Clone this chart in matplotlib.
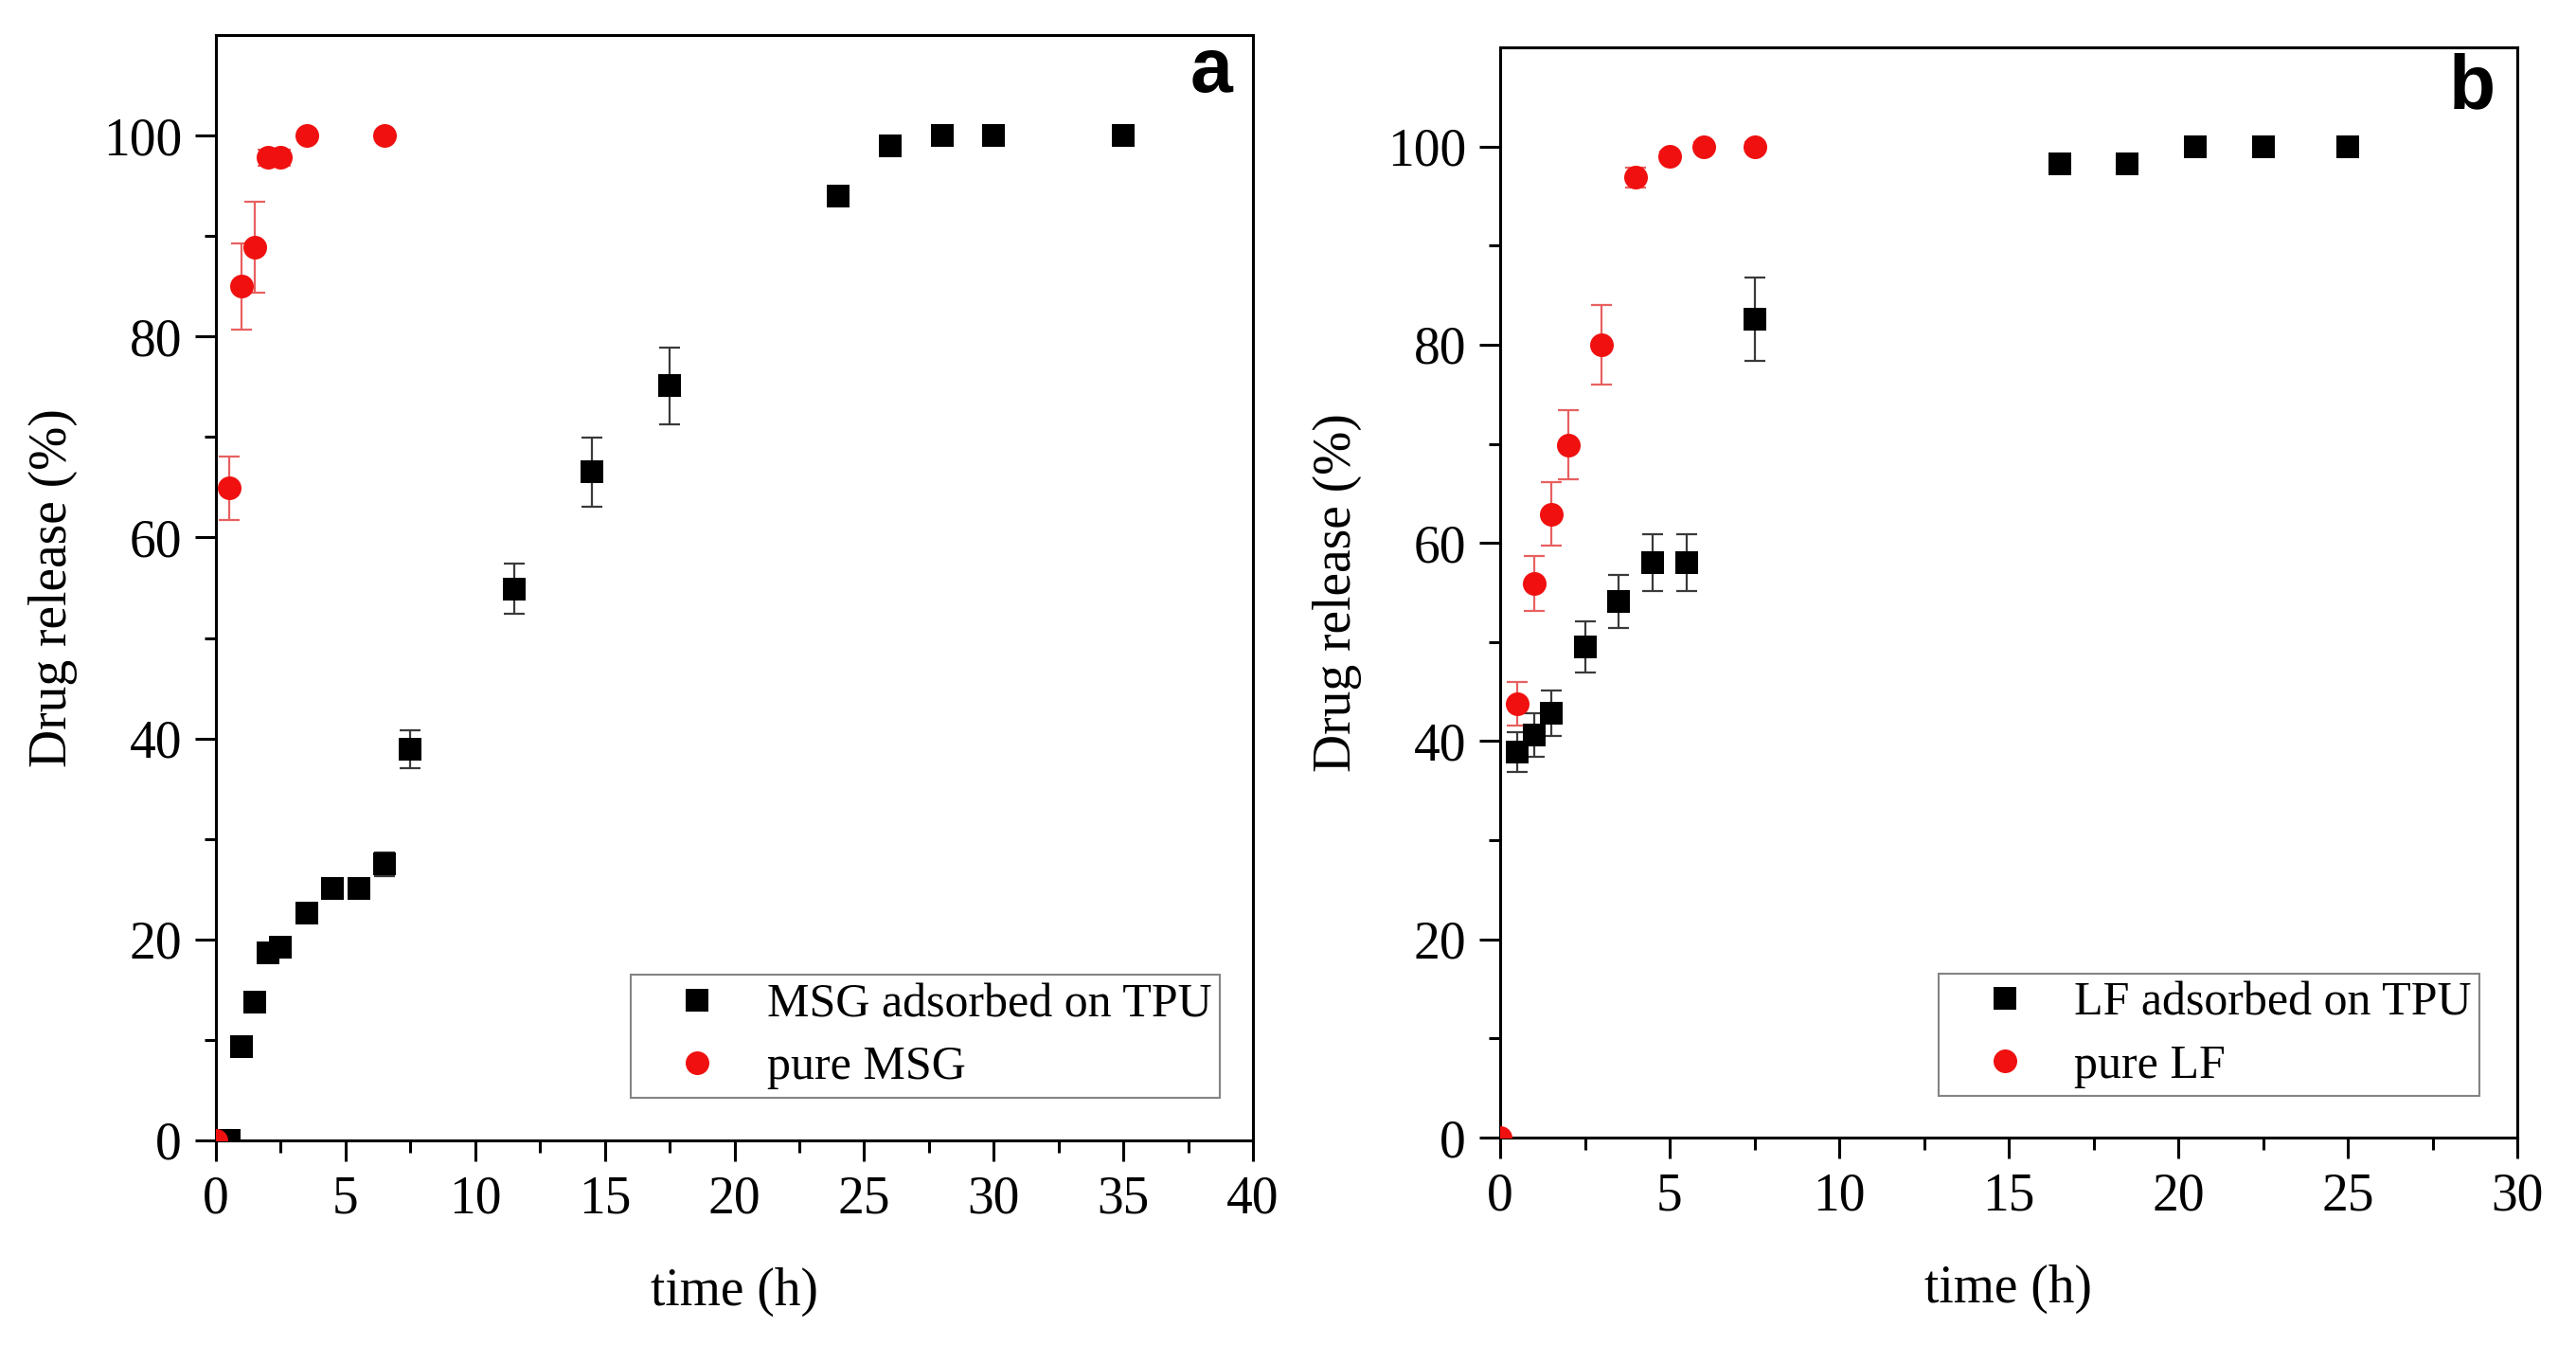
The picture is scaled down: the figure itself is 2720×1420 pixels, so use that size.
import matplotlib
matplotlib.use('Agg')
import matplotlib.pyplot as plt
import numpy as np

# panel a: MSG
msg_tpu_t = [0.5, 1, 1.5, 2, 2.5, 3.5, 4.5, 5.5, 6.5, 7.5, 11.5, 14.5, 17.5, 24, 26, 28, 30, 35]
msg_tpu_y = [0, 9.3, 13.8, 18.7, 19.2, 22.6, 25.1, 25.1, 27.5, 38.9, 54.9, 66.5, 75.1, 94.0, 99.0, 100, 100, 100]
msg_tpu_err = [0, 0.6, 0.8, 0.8, 0.8, 0.8, 0.9, 0.9, 1.2, 1.9, 2.5, 3.4, 3.8, 0.6, 0.5, 0.4, 0.4, 0.4]

msg_pure_t = [0, 0.5, 1, 1.5, 2, 2.5, 3.5, 6.5]
msg_pure_y = [0, 64.9, 85.0, 88.9, 97.8, 97.8, 100, 100]
msg_pure_err = [0, 3.2, 4.3, 4.5, 0.8, 0.8, 0.4, 0.4]

# panel b: LF
lf_tpu_t = [0.5, 1, 1.5, 2.5, 3.5, 4.5, 5.5, 7.5, 16.5, 18.5, 20.5, 22.5, 25]
lf_tpu_y = [38.9, 40.6, 42.8, 49.5, 54.1, 58.0, 58.0, 82.6, 98.2, 98.2, 100, 100, 100]
lf_tpu_err = [2.0, 2.2, 2.3, 2.6, 2.7, 2.9, 2.9, 4.2, 0.5, 0.5, 0.4, 0.4, 0.4]

lf_pure_t = [0, 0.5, 1, 1.5, 2, 3, 4, 5, 6, 7.5]
lf_pure_y = [0, 43.8, 55.9, 62.9, 69.9, 80.0, 96.9, 99.0, 100, 100]
lf_pure_err = [0, 2.2, 2.75, 3.2, 3.5, 4.0, 1.0, 0.5, 0.4, 0.4]

plt.rcParams['font.family'] = ['Liberation Serif', 'DejaVu Serif']

fig = plt.figure(figsize=(27.2, 14.2), dpi=100)
ax1 = fig.add_axes([228/2720, 1-1204/1420, (1323-228)/2720, (1204-37)/1420])
ax2 = fig.add_axes([1584/2720, 1-1201/1420, (2658-1584)/2720, (1201-50)/1420])


def panel(ax, t1, y1, e1, t2, y2, e2, lab1, lab2, xmax, letter, leg_box):
    ax.errorbar(t1, y1, yerr=e1, fmt='none', ecolor='#3a3a3a', elinewidth=1.6,
                capsize=8, capthick=1.6, zorder=2)
    ax.errorbar(t2, y2, yerr=e2, fmt='none', ecolor='#e86060', elinewidth=1.6,
                capsize=8, capthick=1.6, zorder=2)
    ax.plot(t1, y1, 's', color='black', markersize=17, markeredgewidth=0,
            label=lab1, zorder=3)
    ax.plot(t2, y2, 'o', color='#f01010', markersize=18, markeredgewidth=0,
            label=lab2, zorder=3)

    ax.set_xlim(0, xmax)
    ax.set_ylim(0, 110)
    ax.set_xticks(np.arange(0, xmax + 1, 5))
    ax.set_xticks(np.arange(2.5, xmax, 5), minor=True)
    ax.set_yticks(np.arange(0, 101, 20))
    ax.set_yticks(np.arange(10, 101, 20), minor=True)
    ax.tick_params(which='major', direction='out', length=16, width=2.2,
                   labelsize=40, pad=10, top=False, right=False)
    ax.tick_params(which='minor', direction='out', length=9, width=2.2,
                   top=False, right=False)
    for s in ax.spines.values():
        s.set_linewidth(2.2)

    ax.set_xlabel('time (h)', fontsize=40, labelpad=33)
    ax.set_ylabel('Drug release (%)', fontsize=40, labelpad=19)

    ax.text(letter[0], letter[1], letter[2], transform=ax.transAxes,
            fontsize=58, fontweight='bold', family=['Liberation Sans', 'DejaVu Sans'],
            ha='center', va='center')

    leg = ax.legend(loc='lower right', bbox_to_anchor=leg_box, fontsize=36,
                    frameon=True, fancybox=False, edgecolor='#666666',
                    handlelength=2.45, handletextpad=0.25, borderpad=0.17,
                    labelspacing=0.39, borderaxespad=0)
    leg.get_frame().set_linewidth(1.5)


panel(ax1, msg_tpu_t, msg_tpu_y, msg_tpu_err, msg_pure_t, msg_pure_y, msg_pure_err,
      'MSG adsorbed on TPU', 'pure MSG', 40, (0.960, 0.9666, 'a'), (0.968, 0.0386))
panel(ax2, lf_tpu_t, lf_tpu_y, lf_tpu_err, lf_pure_t, lf_pure_y, lf_pure_err,
      'LF adsorbed on TPU', 'pure LF', 30, (0.956, 0.962, 'b'), (0.963, 0.038))

fig.savefig('out.png', dpi=100)
